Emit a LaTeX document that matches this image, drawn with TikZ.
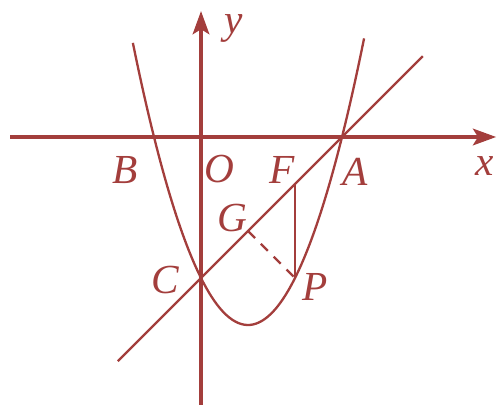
\documentclass[tikz,border=0pt]{standalone}
\usepackage{amsmath}
\usepackage{fontspec}
\setmainfont{Liberation Serif}
\usepackage{tikz}
\usetikzlibrary{arrows.meta}
\definecolor{figred}{RGB}{163,62,60}

\begin{document}
\begin{tikzpicture}[figred,
    every node/.style={font=\fontsize{25}{30}\selectfont\itshape},
    axis/.style={line width=2.3pt, -{Stealth[length=14pt,width=10pt,inset=3pt]}},
    curve/.style={line width=1.4pt}]
    \useasboundingbox (-4.277,-5.702) rectangle (6.319,2.915);

    \coordinate (O) at (0,0);
    \coordinate (A) at (3,0);
    \coordinate (B) at (-1,0);
    \coordinate (C) at (0,-3);
    \coordinate (P) at (2,-3);
    \coordinate (F) at (2,-1);
    \coordinate (G) at (1,-2);
    \coordinate (xs) at (-4.06,0);
    \coordinate (xe) at (6.28,0);
    \coordinate (ys) at (0,-5.75);
    \coordinate (ye) at (0,2.68);
    \coordinate (L1) at (-1.77,-4.77);
    \coordinate (L2) at (4.72,1.72);

    \draw [axis] (xs) -- (xe);
    \draw [axis] (ys) -- (ye);

    \draw [curve] plot[domain=-1.45:3.47, samples=80, smooth] (\x, {\x*\x-2*\x-3});
    \draw [curve] (L1) -- (L2);
    \draw [curve] (F) -- (P);
    \draw [curve, dashed, dash pattern=on 6pt off 5pt] (G) -- (P);

    \node at (0.70,2.30) {y};
    \node at (6.04,-0.62) {x};
    \node at (-1.62,-0.70) {B};
    \node at (0.40,-0.68) {O};
    \node at (1.72,-0.70) {F};
    \node at (3.28,-0.74) {A};
    \node at (0.66,-1.72) {G};
    \node at (-0.77,-3.04) {C};
    \node at (2.43,-3.19) {P};
\end{tikzpicture}
\end{document}
